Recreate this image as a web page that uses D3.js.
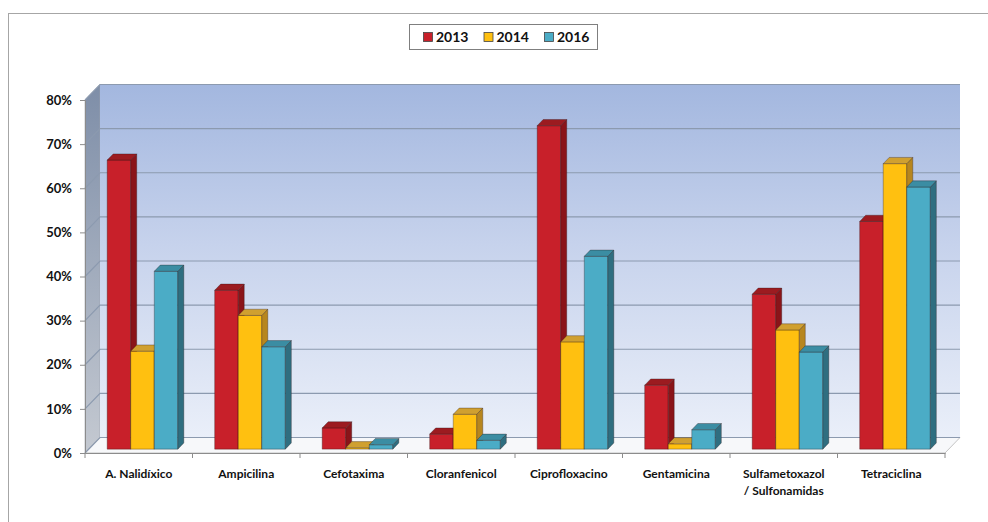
<!DOCTYPE html>
<html>
<head>
<meta charset="utf-8">
<script src="https://cdn.jsdelivr.net/npm/d3@7"></script>
<style>
  html, body { margin: 0; padding: 0; background: #fff; }
  svg { display: block; }
  text { font-family: Lato, "Open Sans", "Liberation Sans", sans-serif; font-weight: 700; fill: #111; }
</style>
</head>
<body>
<svg id="chart" width="988" height="522"></svg>
<script>
// Antibiotic resistance share by year
const categories = ["A. Nalidíxico", "Ampicilina", "Cefotaxima", "Cloranfenicol",
                    "Ciprofloxacino", "Gentamicina", "Sulfametoxazol\n/ Sulfonamidas", "Tetraciclina"];
const years = ["2013", "2014", "2016"];
const values2013 = [0.655, 0.360, 0.048, 0.034, 0.733, 0.145, 0.351, 0.516];
const values2014 = [0.222, 0.303, 0.003, 0.079, 0.243, 0.012, 0.270, 0.647];
const values2016 = [0.403, 0.232, 0.010, 0.020, 0.437, 0.044, 0.220, 0.594];
const yTicks = [0, 0.1, 0.2, 0.3, 0.4, 0.5, 0.6, 0.7, 0.8];

const seriesValues = { "2013": values2013, "2014": values2014, "2016": values2016 };
const colors = {
  "2013": { front: "#C8202A", side: "#8A1419", top: "#9C1B20" },
  "2014": { front: "#FFC010", side: "#B7861E", top: "#D0A030" },
  "2016": { front: "#4BACC6", side: "#2F6E80", top: "#3B8DA3" }
};

const svg = d3.select("#chart");

// oblique 3D projection: depth vector of the plot box
const DX = 15, DY = -15.5;
const proj = (x, y, d) => [x + d * DX, y + d * DY];

const x0 = d3.scaleBand().domain(categories).range([85, 945])
  .paddingInner(0.343).paddingOuter(0.1715);
const x1 = d3.scaleBand().domain(years).range([0, x0.bandwidth()]);
const y = d3.scaleLinear().domain([0, 0.8]).range([453, 100]);

const defs = svg.append("defs");
const wallGrad = defs.append("linearGradient").attr("id", "wall")
  .attr("x1", 0).attr("y1", 0).attr("x2", 0).attr("y2", 1);
wallGrad.append("stop").attr("offset", "0%").attr("stop-color", "#A3B7DF");
wallGrad.append("stop").attr("offset", "45%").attr("stop-color", "#C6D2EC");
wallGrad.append("stop").attr("offset", "100%").attr("stop-color", "#EAEFF9");
const sideGrad = defs.append("linearGradient").attr("id", "side")
  .attr("x1", 0).attr("y1", 0).attr("x2", 0).attr("y2", 1);
sideGrad.append("stop").attr("offset", "0%").attr("stop-color", "#7E8EA8");
sideGrad.append("stop").attr("offset", "100%").attr("stop-color", "#C4C9D1");

// outer frame
svg.append("rect").attr("x", 8.5).attr("y", 13.5).attr("width", 1000).attr("height", 600)
  .attr("fill", "#fff").attr("stroke", "#A6A6A6").attr("stroke-width", 1);

const poly = pts => "M" + pts.map(p => p.join(",")).join("L") + "Z";
const [xL, xR] = x0.range();
const y0 = y(0), yTop = y(0.8);

// side wall
svg.append("path")
  .attr("d", poly([[xL, y0], [xL, yTop], proj(xL, yTop, 1), proj(xL, y0, 1)]))
  .attr("fill", "url(#side)").attr("stroke", "#9AA3B0").attr("stroke-width", 0.6);
// back wall
svg.append("path")
  .attr("d", poly([proj(xL, y0, 1), proj(xL, yTop, 1), proj(xR, yTop, 1), proj(xR, y0, 1)]))
  .attr("fill", "url(#wall)");
// floor
svg.append("path")
  .attr("d", poly([[xL, y0], [xR, y0], proj(xR, y0, 1), proj(xL, y0, 1)]))
  .attr("fill", "#F7F8FA").attr("stroke", "#B5B5B5").attr("stroke-width", 0.8);

// gridlines on side and back walls
const grid = svg.append("g").attr("fill", "none").attr("stroke", "#8C9AAF").attr("stroke-width", 1.2);
yTicks.forEach(t => {
  const a = [xL, y(t)], b = proj(xL, y(t), 1), c = proj(xR, y(t), 1);
  grid.append("path").attr("d", "M" + a + "L" + b + "L" + c);
});

// y axis on the front plane
const yAxis = d3.axisLeft(y).tickValues(yTicks).tickFormat(d3.format(".0%")).tickSize(5).tickPadding(8);
const gy = svg.append("g").attr("transform", `translate(${xL},0)`).call(yAxis);
gy.select(".domain").attr("stroke", "#8C8C8C");
gy.selectAll(".tick line").attr("stroke", "#8C8C8C");
gy.selectAll(".tick text").style("font-size", "13px").attr("fill", "#111")
  .style("font-family", "Lato, 'Open Sans', sans-serif").style("font-weight", 700);

// x axis on the front edge of the floor
const xAxis = d3.axisBottom(x0).tickSize(0).tickFormat("");
const gx = svg.append("g").attr("transform", `translate(0,${y0})`).call(xAxis);
gx.select(".domain").attr("stroke", "#8C8C8C");
const step = x0.step();
d3.range(categories.length + 1).forEach(i => {
  const xt = xL + i * step;
  gx.append("line").attr("x1", xt).attr("x2", xt).attr("y1", 0).attr("y2", 5).attr("stroke", "#8C8C8C");
});
categories.forEach(c => {
  const lines = c.split("\n");
  const t = svg.append("text").attr("text-anchor", "middle").style("font-size", "12px")
    .attr("x", x0(c) + x0.bandwidth() / 2).attr("y", 478);
  lines.forEach((ln, i) => t.append("tspan").attr("x", x0(c) + x0.bandwidth() / 2)
    .attr("dy", i === 0 ? 0 : 17).text(ln));
});

// 3D bars, drawn left to right so nearer faces overlap
const F0 = 0.25, BD = 0.4;
const bars = svg.append("g").attr("stroke", "rgba(40,20,20,0.55)").attr("stroke-width", 0.6)
  .attr("stroke-linejoin", "round");
categories.forEach((c, ci) => {
  years.forEach(yr => {
    const v = seriesValues[yr][ci];
    const bx = x0(c) + x1(yr), bw = x1.bandwidth();
    const yt = y(v);
    const fl = proj(bx, y0, F0), ft = proj(bx, yt, F0);
    const frl = proj(bx + bw, y0, F0), frt = proj(bx + bw, yt, F0);
    const brl = proj(bx + bw, y0, F0 + BD), brt = proj(bx + bw, yt, F0 + BD);
    const blt = proj(bx, yt, F0 + BD);
    const col = colors[yr];
    bars.append("path").attr("d", poly([fl, ft, frt, frl])).attr("fill", col.front);
    bars.append("path").attr("d", poly([frl, frt, brt, brl])).attr("fill", col.side);
    bars.append("path").attr("d", poly([ft, blt, brt, frt])).attr("fill", col.top);
  });
});

// legend
const lg = svg.append("g");
lg.append("rect").attr("x", 409.5).attr("y", 24.5).attr("width", 188).attr("height", 25)
  .attr("fill", "#fff").attr("stroke", "#7F7F7F").attr("stroke-width", 1);
const legendX = d3.scalePoint().domain(years).range([423, 544]);
years.forEach(yr => {
  const lx = legendX(yr);
  lg.append("rect").attr("x", lx + 0.5).attr("y", 32.5).attr("width", 9).attr("height", 9)
    .attr("fill", colors[yr].front).attr("stroke", "#444").attr("stroke-width", 0.8);
  lg.append("text").attr("x", lx + 13).attr("y", 42).style("font-size", "14px").text(yr);
});
</script>
</body>
</html>
